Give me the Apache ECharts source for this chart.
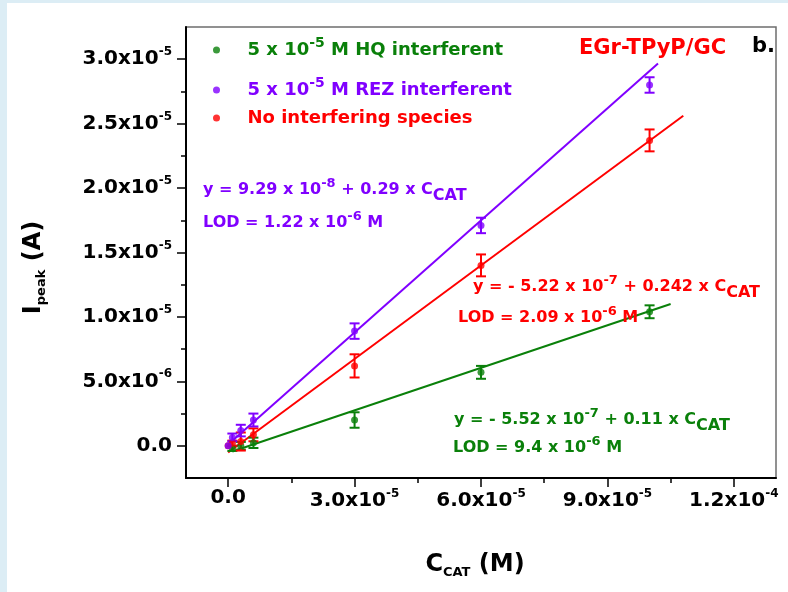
<!DOCTYPE html>
<html>
<head>
<meta charset="utf-8">
<script src="https://cdn.jsdelivr.net/npm/echarts@6/dist/echarts.min.js"></script>
<style>
  html, body { margin: 0; padding: 0; background: #ffffff; }
  #chart { width: 788px; height: 592px; }
</style>
</head>
<body>
<div id="chart"></div>
<script>
// Catechol concentration (M) for each measurement
const concREZ  = [0, 1e-6, 3e-6, 6e-6, 3e-5, 6e-5, 1e-4];
const concNone = [0, 1e-6, 3e-6, 6e-6, 3e-5, 6e-5, 1e-4];
const concHQ   = [1e-6, 3e-6, 6e-6, 3e-5, 6e-5, 1e-4];

// Peak currents (A) and their error bars (A)
const peakREZ  = [0, 6.5e-7, 1.18e-6, 2.0e-6, 8.9e-6, 1.71e-5, 2.80e-5];
const errREZ   = [0, 3e-7, 4.5e-7, 5e-7, 6e-7, 6e-7, 6e-7];
const peakNone = [0, 2e-7, 3.3e-7, 8.5e-7, 6.2e-6, 1.40e-5, 2.37e-5];
const errNone  = [0, 2e-7, 7e-7, 5e-7, 9e-7, 8.5e-7, 8.5e-7];
const peakHQ   = [-2e-7, 0, 2.3e-7, 2.0e-6, 5.7e-6, 1.04e-5];
const errHQ    = [2e-7, 3e-7, 4e-7, 6e-7, 5e-7, 5e-7];

// Linear fits: intercept (A), slope (A/M), and drawn concentration span (M)
const fitREZ  = { intercept: 9.29e-8,  slope: 0.29,  from: 0,    to: 1.02e-4 };
const fitNone = { intercept: -5.22e-7, slope: 0.242, from: 0,    to: 1.08e-4 };
const fitHQ   = { intercept: -5.52e-7, slope: 0.11,  from: 1e-6, to: 1.05e-4 };

// Axis ticks and their labels (mantissa, exponent)
const xTicks = [0, 3e-5, 6e-5, 9e-5, 1.2e-4];
const xTickText = [['0.0', ''], ['3.0x10', '-5'], ['6.0x10', '-5'], ['9.0x10', '-5'], ['1.2x10', '-4']];
const xMinorTicks = [1.5e-5, 4.5e-5, 7.5e-5, 1.05e-4];
const yTicks = [0, 5e-6, 1e-5, 1.5e-5, 2e-5, 2.5e-5, 3e-5];
const yTickText = [['0.0', ''], ['5.0x10', '-6'], ['1.0x10', '-5'], ['1.5x10', '-5'], ['2.0x10', '-5'], ['2.5x10', '-5'], ['3.0x10', '-5']];
const yMinorTicks = [2.5e-6, 7.5e-6, 1.25e-5, 1.75e-5, 2.25e-5, 2.75e-5];

const GREEN = '#0a800a', PURPLE = '#8000ff', RED = '#ff0000';
const FONT = 'DejaVu Sans';

const nameHQ = 'HQ', nameREZ = 'REZ', nameNone = 'None';

function pairs(xs, ys) { return xs.map((x, i) => [x, ys[i]]); }
function errData(xs, ys, es) { return xs.map((x, i) => [x, ys[i], es[i]]); }
function fitLine(f) {
  return [[f.from, f.intercept + f.slope * f.from], [f.to, f.intercept + f.slope * f.to]];
}
function tickLabel(ticks, texts) {
  return function (v) {
    for (let i = 0; i < ticks.length; i++) {
      if (Math.abs(v - ticks[i]) < 1e-12) {
        return texts[i][1] ? '{m|' + texts[i][0] + '}{s|' + texts[i][1] + '}' : '{m|' + texts[i][0] + '}';
      }
    }
    return '';
  };
}

const tickRich = {
  m: { fontFamily: FONT, fontWeight: 'bold', fontSize: 20, color: '#000' },
  s: { fontFamily: FONT, fontWeight: 'bold', fontSize: 12, color: '#000', padding: [0, 0, 14, 0] }
};

function errorBars(color) {
  return function (params, api) {
    const x = api.value(0), y = api.value(1), e = api.value(2);
    if (!e) return null;
    const top = api.coord([x, y + e]);
    const bot = api.coord([x, y - e]);
    const w = 5;
    const style = { stroke: color, lineWidth: 2 };
    return {
      type: 'group',
      children: [
        { type: 'line', shape: { x1: top[0], y1: top[1], x2: bot[0], y2: bot[1] }, style },
        { type: 'line', shape: { x1: top[0] - w, y1: top[1], x2: top[0] + w, y2: top[1] }, style },
        { type: 'line', shape: { x1: bot[0] - w, y1: bot[1], x2: bot[0] + w, y2: bot[1] }, style }
      ]
    };
  };
}

function legendFor(name, top, color) {
  return {
    data: [name],
    left: 208, top: top,
    orient: 'vertical',
    icon: 'circle',
    itemWidth: 30, itemHeight: 7,
    selectedMode: false,
    textStyle: {
      color: color, fontFamily: FONT, fontWeight: 'bold', fontSize: 18,
      padding: [0, 0, 0, 11],
      rich: {
        m: { color: color, fontFamily: FONT, fontWeight: 'bold', fontSize: 18 },
        s: { color: color, fontFamily: FONT, fontWeight: 'bold', fontSize: 14, padding: [0, 0, 14, 0] }
      }
    },
    formatter: function (n) {
      if (n === nameHQ) return '{m|5 x 10}{s|-5}{m| M HQ interferent}';
      if (n === nameREZ) return '{m|5 x 10}{s|-5}{m| M REZ interferent}';
      return '{m|No interfering species}';
    }
  };
}

function eqText(left, top, color, parts) {
  return {
    type: 'text', left: left, top: top, z: 100,
    style: {
      text: parts,
      fill: color,
      font: 'bold 16px "' + FONT + '"',
      rich: {
        m: { fill: color, fontFamily: FONT, fontWeight: 'bold', fontSize: 16 },
        s: { fill: color, fontFamily: FONT, fontWeight: 'bold', fontSize: 13, padding: [0, 0, 12, 0] },
        d: { fill: color, fontFamily: FONT, fontWeight: 'bold', fontSize: 16, padding: [12, 0, 0, 0] }
      }
    }
  };
}

const chart = echarts.init(document.getElementById('chart'), null, { renderer: 'canvas' });

const option = {
  backgroundColor: '#ffffff',
  animation: false,
  grid: {
    left: 186, top: 27, right: 12, bottom: 114,
    show: true, borderColor: '#6e6e6e', borderWidth: 1.5, backgroundColor: 'transparent'
  },
  legend: [
    legendFor(nameHQ, 31, GREEN),
    legendFor(nameREZ, 71, PURPLE),
    legendFor(nameNone, 104, RED)
  ],
  title: [
    { text: 'EGr-TPyP/GC', left: 574, top: 33,
      textStyle: { color: RED, fontFamily: FONT, fontWeight: 'bold', fontSize: 21 } },
    { text: 'b.', left: 747, top: 31,
      textStyle: { color: '#000', fontFamily: FONT, fontWeight: 'bold', fontSize: 21 } }
  ],
  xAxis: [{
    type: 'value', min: -1e-5, max: 1.3e-4,
    splitLine: { show: false },
    axisLine: { show: true, onZero: false, lineStyle: { color: '#000', width: 2 } },
    axisTick: { show: true, customValues: xTicks, length: 9, lineStyle: { color: '#000', width: 1.5 } },
    axisLabel: { customValues: xTicks, formatter: tickLabel(xTicks, xTickText), margin: 10, rich: tickRich },
    name: '{c|C}{d|CAT}{c| (M)}',
    nameLocation: 'middle', nameGap: 72,
    nameTextStyle: {
      padding: [0, 12, 0, 0],
      rich: {
        c: { fontFamily: FONT, fontWeight: 'bold', fontSize: 24, color: '#000' },
        d: { fontFamily: FONT, fontWeight: 'bold', fontSize: 13, color: '#000', padding: [16, 0, 0, 0] }
      }
    }
  }, {
    type: 'value', min: -1e-5, max: 1.3e-4, position: 'bottom',
    splitLine: { show: false }, axisLine: { show: false, onZero: false },
    axisTick: { show: true, customValues: xMinorTicks, length: 5, lineStyle: { color: '#000', width: 1.5 } },
    axisLabel: { show: false }
  }],
  yAxis: [{
    type: 'value', min: -2.5e-6, max: 3.25e-5,
    splitLine: { show: false },
    axisLine: { show: true, onZero: false, lineStyle: { color: '#000', width: 2 } },
    axisTick: { show: true, customValues: yTicks, length: 9, lineStyle: { color: '#000', width: 1.5 } },
    axisLabel: { customValues: yTicks, formatter: tickLabel(yTicks, yTickText), margin: 14, rich: tickRich },
    name: '{c|I}{d|peak}{c| (A)}',
    nameLocation: 'middle', nameGap: 138, nameRotate: 90,
    nameTextStyle: {
      padding: [0, 30, 0, 0],
      rich: {
        c: { fontFamily: FONT, fontWeight: 'bold', fontSize: 24, color: '#000' },
        d: { fontFamily: FONT, fontWeight: 'bold', fontSize: 13, color: '#000', padding: [16, 0, 0, 0] }
      }
    }
  }, {
    type: 'value', min: -2.5e-6, max: 3.25e-5, position: 'left',
    splitLine: { show: false }, axisLine: { show: false, onZero: false },
    axisTick: { show: true, customValues: yMinorTicks, length: 5, lineStyle: { color: '#000', width: 1.5 } },
    axisLabel: { show: false }
  }],
  graphic: [
    { type: 'rect', left: 0, top: 0, shape: { width: 7, height: 592 }, style: { fill: '#dcedf5' }, z: -10 },
    { type: 'rect', left: 0, top: 0, shape: { width: 788, height: 3 }, style: { fill: '#dcedf5' }, z: -10 },
    eqText(203, 177, PURPLE, '{m|y = 9.29 x 10}{s|-8}{m| + 0.29 x C}{d|CAT}'),
    eqText(203, 210, PURPLE, '{m|LOD = 1.22 x 10}{s|-6}{m| M}'),
    eqText(473, 274, RED, '{m|y = - 5.22 x 10}{s|-7}{m| + 0.242 x C}{d|CAT}'),
    eqText(458, 305, RED, '{m|LOD = 2.09 x 10}{s|-6}{m| M}'),
    eqText(454, 407, GREEN, '{m|y = - 5.52 x 10}{s|-7}{m| + 0.11 x C}{d|CAT}'),
    eqText(453, 435, GREEN, '{m|LOD = 9.4 x 10}{s|-6}{m| M}')
  ],
  series: [
    { name: 'fitHQ', type: 'line', data: fitLine(fitHQ), symbol: 'none', lineStyle: { color: GREEN, width: 2 }, z: 2, silent: true },
    { name: 'fitNone', type: 'line', data: fitLine(fitNone), symbol: 'none', lineStyle: { color: RED, width: 2 }, z: 2, silent: true },
    { name: 'fitREZ', type: 'line', data: fitLine(fitREZ), symbol: 'none', lineStyle: { color: PURPLE, width: 2 }, z: 2, silent: true },
    { name: 'errHQ', type: 'custom', renderItem: errorBars(GREEN), data: errData(concHQ, peakHQ, errHQ), z: 3, silent: true },
    { name: 'errNone', type: 'custom', renderItem: errorBars(RED), data: errData(concNone, peakNone, errNone), z: 3, silent: true },
    { name: 'errREZ', type: 'custom', renderItem: errorBars(PURPLE), data: errData(concREZ, peakREZ, errREZ), z: 3, silent: true },
    { name: nameHQ, type: 'scatter', data: pairs(concHQ, peakHQ), symbol: 'circle', symbolSize: 7, itemStyle: { color: GREEN }, z: 4 },
    { name: nameNone, type: 'scatter', data: pairs(concNone, peakNone), symbol: 'circle', symbolSize: 7, itemStyle: { color: RED }, z: 4 },
    { name: nameREZ, type: 'scatter', data: pairs(concREZ, peakREZ), symbol: 'circle', symbolSize: 7, itemStyle: { color: PURPLE }, z: 4 }
  ]
};

chart.setOption(option);
</script>
</body>
</html>
